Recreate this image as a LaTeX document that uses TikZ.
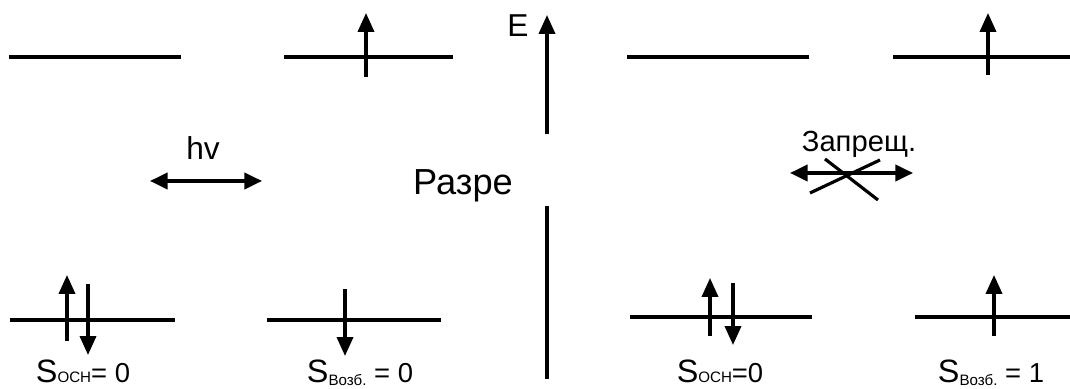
\documentclass[tikz,border=0pt]{standalone}
\usepackage{fontspec}
\setmainfont{Liberation Sans}
\usetikzlibrary{arrows.meta}
\newcommand\bigS{{\fontsize{9.2}{10}\selectfont S}}
\newcommand\lvlsub[1]{{\fontsize{4.3}{5}\selectfont #1}}
\newcommand\lvllow[1]{\raisebox{-0.7pt}{\lvlsub{#1}}}

\begin{document}
\begin{tikzpicture}[x=0.01cm, y=-0.01cm, line width=0.9pt,
  spin/.style={-{Triangle[length=5.4pt,width=4.6pt]}},
  both/.style={{Triangle[length=5pt,width=4.6pt]}-{Triangle[length=5pt,width=4.6pt]}},
  lbl/.style={font=\fontsize{9}{10}\selectfont, inner sep=0pt, anchor=base},
  slbl/.style={lbl, font=\fontsize{7.8}{9}\selectfont}]
\useasboundingbox (0,0) rectangle (1070,389);
% energy axis
\draw[spin] (547,134) -- (547,15);
\draw (547,206) -- (547,379);
\node[lbl] (E) at (518,37) {E};
\node[lbl, font=\fontsize{10.3}{12}\selectfont] (razre) at (463,195) {Разре};
% allowed transition
\draw (9,57) -- (181,57);
\draw (284,57) -- (453,57);
\draw[spin] (366,77) -- (366,13);
\draw (10,320) -- (175,320);
\draw[spin] (67,341) -- (67,275);
\draw[spin] (88,284) -- (88,355);
\draw (267,320) -- (441,320);
\draw[spin] (345,289) -- (345,356);
\node[lbl] (hv) at (203,160) {hv};
\coordinate (hvL) at (150,181);
\coordinate (hvR) at (262,181);
\draw[both] (hvL) -- (hvR);
\node[slbl] (sosnL) at (83,383) {\bigS\lvlsub{ОСН}= 0};
\node[slbl] (svozbL) at (360,383) {\bigS\lvllow{Возб.} = 0};
% forbidden transition
\draw (627,57) -- (809,57);
\draw (893,57) -- (1070,57);
\draw[spin] (988,75) -- (988,13);
\draw (630,317) -- (812,317);
\draw[spin] (710,336) -- (710,278);
\draw[spin] (733,283) -- (733,345);
\draw (915,317) -- (1070,317);
\draw[spin] (994,336) -- (994,275);
\node[lbl, font=\fontsize{8.3}{9}\selectfont] (zapr) at (859,152) {Запрещ.};
\coordinate (zaprL) at (790,173);
\coordinate (zaprR) at (913,173);
\draw[both] (zaprL) -- (zaprR);
\draw (825,159) -- (878,200);
\draw (810,193) -- (880,160);
\node[slbl] (sosnR) at (720,383) {\bigS\lvlsub{ОСН}=0};
\node[slbl] (svozbR) at (991,383) {\bigS\lvllow{Возб.} = 1};
\end{tikzpicture}
\end{document}
